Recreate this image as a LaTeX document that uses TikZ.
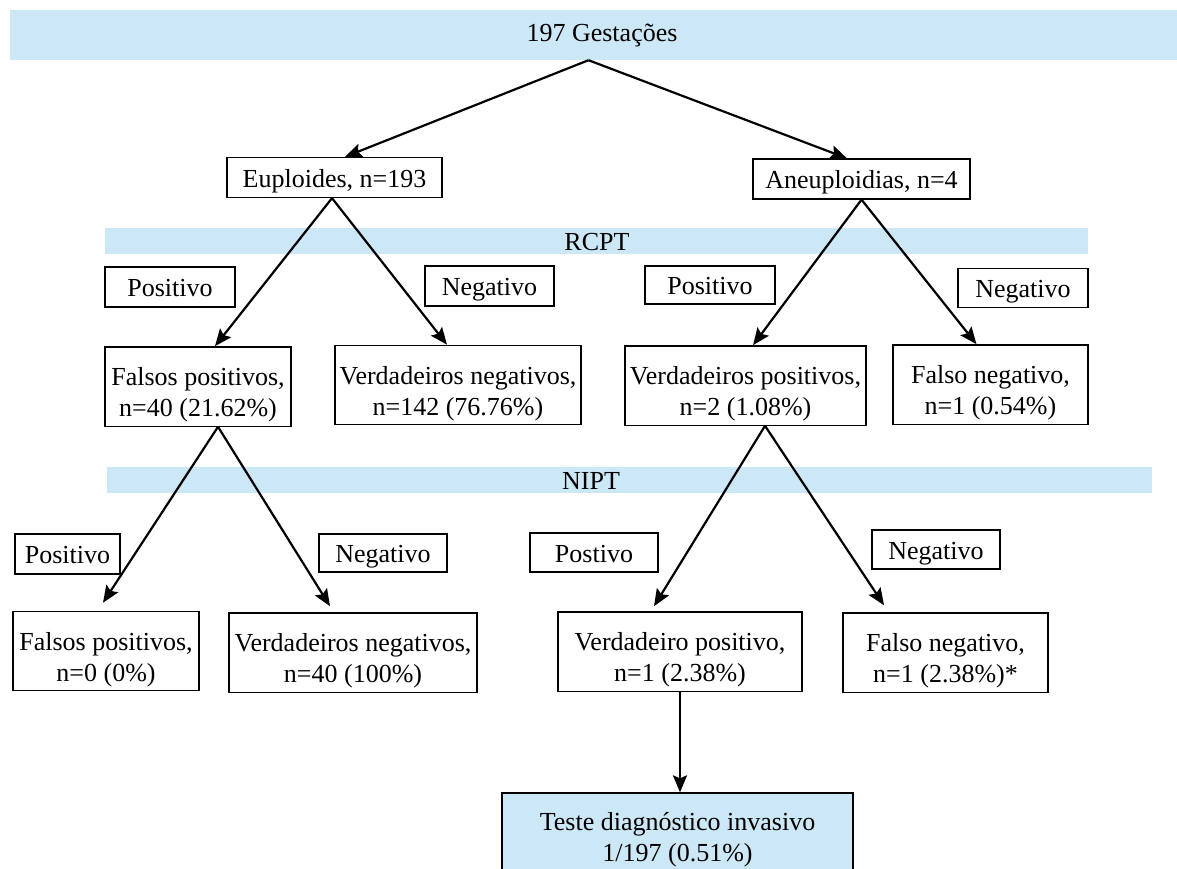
\documentclass[tikz,border=0pt]{standalone}
\usepackage{fontspec}
\setmainfont{Liberation Serif}
\usetikzlibrary{arrows.meta}
\definecolor{bandblue}{RGB}{204,232,246}
\newcommand{\twol}[3][39pt]{\begin{tabular}{@{}c@{}}\rule{0pt}{#1}#2\\#3\end{tabular}}
\tikzset{
  box/.style={draw=black, line width=1.3pt, fill=white, inner sep=0pt, align=center,
              font=\fontsize{26}{31}\selectfont},
  oneline/.style={box, execute at begin node={\rule[-9pt]{0pt}{37pt}}},
  twoline/.style={box},
  band/.style={fill=bandblue, draw=none, inner sep=0pt},
  txt/.style={inner sep=0pt, anchor=base, font=\fontsize{26}{31}\selectfont},
  arr/.style={line width=2.2pt, -{Stealth[length=17pt,width=14pt,inset=3pt]}}
}
\begin{document}
\begin{tikzpicture}[x=1pt,y=-1pt]
\clip (0,0) rectangle (1177,869);
\fill[white] (0,0) rectangle (1177,869);

% bands
\node[band, minimum width=1167pt, minimum height=50pt] (topband) at (593.5,35) {};
\node[txt] (top) at (602,42) {197 Gestações};
\node[band, minimum width=983pt, minimum height=26pt] (rcptband) at (596.5,241) {};
\node[txt] (rcpt) at (597,250) {RCPT};
\node[band, minimum width=1045pt, minimum height=26pt] (niptband) at (629.5,480) {};
\node[txt] (nipt) at (591,489) {NIPT};

% level 1
\node[oneline, minimum width=215pt, minimum height=40pt] (eup) at (334.5,177.5) {Euploides, n=193};
\node[oneline, minimum width=217pt, minimum height=40pt] (aneu) at (861.5,179) {Aneuploidias, n=4};

% RCPT labels
\node[oneline, minimum width=130pt, minimum height=40pt] (pos1) at (170,287) {Positivo};
\node[oneline, minimum width=129pt, minimum height=40pt] (neg1) at (489.5,286) {Negativo};
\node[oneline, minimum width=130pt, minimum height=38pt] (pos2) at (710,285) {Positivo};
\node[oneline, minimum width=130pt, minimum height=39pt] (neg2) at (1023,288) {Negativo};

% level 2
\node[twoline, minimum width=186pt, minimum height=77pt] (fp) at (198,386.5) {\twol{Falsos positivos,}{n=40 (21.62\%)}};
\node[twoline, minimum width=246pt, minimum height=78pt] (vn) at (458,385) {\twol{Verdadeiros negativos,}{n=142 (76.76\%)}};
\node[twoline, minimum width=241pt, minimum height=77pt] (vp) at (745.5,385.5) {\twol{Verdadeiros positivos,}{n=2 (1.08\%)}};
\node[twoline, minimum width=195pt, minimum height=77pt] (fn) at (990.5,384.5) {\twol{Falso negativo,}{n=1 (0.54\%)}};

% NIPT labels
\node[oneline, minimum width=105pt, minimum height=40pt] (pos3) at (67.5,554) {Positivo};
\node[oneline, minimum width=128pt, minimum height=38pt] (neg3) at (383,553) {Negativo};
\node[oneline, minimum width=128pt, minimum height=39pt] (pos4) at (594,552.5) {Postivo};
\node[oneline, minimum width=128pt, minimum height=39pt] (neg4) at (936,549.5) {Negativo};

% level 3
\node[twoline, minimum width=186pt, minimum height=78pt] (fp0) at (106,651) {\twol{Falsos positivos,}{n=0 (0\%)}};
\node[twoline, minimum width=248pt, minimum height=79pt] (vn40) at (353,652.5) {\twol{Verdadeiros negativos,}{n=40 (100\%)}};
\node[twoline, minimum width=244pt, minimum height=79pt] (vp1) at (680,651.5) {\twol{Verdadeiro positivo,}{n=1 (2.38\%)}};
\node[twoline, minimum width=205pt, minimum height=77pt] (fn1) at (945.5,652.5) {\twol{Falso negativo,}{n=1 (2.38\%)*}};

% final
\node[twoline, fill=bandblue, minimum width=351pt, minimum height=88pt] (inv) at (677.5,837) {\twol[28pt]{Teste diagnóstico invasivo}{1/197 (0.51\%)}};

% arrows
\draw[arr] ([xshift=-5pt]topband.south) -- ([xshift=10.5pt]eup.north);
\draw[arr] ([xshift=-5pt]topband.south) -- ([xshift=-14.5pt]aneu.north);
\draw[arr] ([xshift=-2.5pt]eup.south) -- ([xshift=17pt]fp.north);
\draw[arr] ([xshift=-2.5pt]eup.south) -- ([xshift=-11pt]vn.north);
\draw[arr] (aneu.south) -- ([xshift=7.5pt]vp.north);
\draw[arr] (aneu.south) -- ([xshift=-14pt]fn.north);
\draw[arr] ([xshift=20pt]fp.south) -- ([xshift=-3pt,yshift=8pt]fp0.north);
\draw[arr] ([xshift=20pt]fp.south) -- ([xshift=-23pt,yshift=6pt]vn40.north);
\draw[arr] ([xshift=19.5pt]vp.south) -- ([xshift=-26pt,yshift=5pt]vp1.north);
\draw[arr] ([xshift=19.5pt]vp.south) -- ([xshift=-61.5pt,yshift=7pt]fn1.north);
\draw[arr] (vp1.south) -- (vp1.south |- inv.north);
\end{tikzpicture}
\end{document}
